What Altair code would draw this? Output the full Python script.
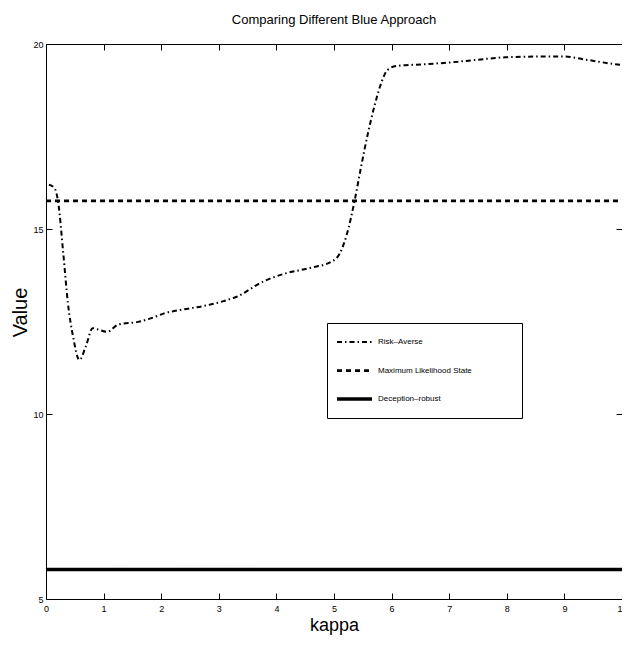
import altair as alt
import pandas as pd

# Risk-Averse curve
ra_x = [0.05, 0.15, 0.21, 0.30, 0.38, 0.47, 0.58, 0.69, 0.81, 0.89, 1.06, 1.26, 1.60, 1.83,
        2.05, 2.40, 2.74, 3.08, 3.31, 3.77, 4.16, 4.56, 4.96, 5.10, 5.22, 5.36, 5.47, 5.59,
        5.70, 5.84, 5.93, 6.10, 6.55, 7.00, 7.46, 7.97, 8.54, 9.00, 9.40, 9.85, 10.0]
ra_y = [16.2, 16.1, 15.74, 14.34, 13.0, 12.09, 11.46, 11.82, 12.32, 12.29, 12.22, 12.42, 12.49, 12.59,
        12.72, 12.83, 12.92, 13.05, 13.17, 13.58, 13.80, 13.94, 14.12, 14.34, 14.84, 15.78, 16.68, 17.59,
        18.31, 19.03, 19.30, 19.41, 19.45, 19.50, 19.57, 19.64, 19.66, 19.66, 19.57, 19.46, 19.43]

mls_x = [0.0, 10.0]
mls_y = [15.76, 15.76]

dr_x = [0.0, 10.0]
dr_y = [5.80, 5.80]

series = ["Risk\u2013Averse", "Maximum Likelihood State", "Deception\u2013robust"]

rows = []
for xv, yv in zip(ra_x, ra_y):
    rows.append({"series": series[0], "x": xv, "y": yv})
for xv, yv in zip(mls_x, mls_y):
    rows.append({"series": series[1], "x": xv, "y": yv})
for xv, yv in zip(dr_x, dr_y):
    rows.append({"series": series[2], "x": xv, "y": yv})
df = pd.DataFrame(rows)

W, H = 576, 555
FONT = "Liberation Sans"

xscale = alt.Scale(domain=[0, 10], nice=False, zero=False)
yscale = alt.Scale(domain=[5, 20], nice=False, zero=False)
xticks = list(range(0, 11))
yticks = [5, 10, 15, 20]

# blank (non-whitespace) padding so the legend box is as wide as in the reference
pad = "\u2800" * 7

legend = alt.Legend(
    title=None, orient="none", legendX=281, legendY=279,
    strokeColor="black", fillColor="white", padding=8,
    symbolType="stroke", symbolSize=1225, symbolStrokeColor="black",
    clipHeight=22, rowPadding=6.5, labelOffset=4,
    labelFont=FONT, labelFontSize=8, labelColor="black",
    labelExpr=f"datum.label + '{pad}'",
    labelLimit=400,
)

main = alt.Chart(df).mark_line(color="black", interpolate="monotone").encode(
    x=alt.X("x:Q", scale=xscale,
            axis=alt.Axis(orient="bottom", values=xticks, ticks=False, tickSize=0, grid=False,
                          domain=True, domainColor="black", labelPadding=5, labelFlush=False,
                          labelFont=FONT, labelFontSize=9, labelColor="black",
                          title="kappa", titleFont=FONT, titleFontSize=18,
                          titleFontWeight="normal", titleColor="black", titlePadding=3)),
    y=alt.Y("y:Q", scale=yscale,
            axis=alt.Axis(orient="left", values=yticks, ticks=False, tickSize=0, grid=False,
                          domain=True, domainColor="black", labelPadding=3, labelFlush=False,
                          labelFont=FONT, labelFontSize=9, labelColor="black",
                          title="Value", titleFont=FONT, titleFontSize=20,
                          titleFontWeight="normal", titleColor="black", titlePadding=2,
                          titleY=268)),
    strokeDash=alt.StrokeDash("series:N",
                              scale=alt.Scale(domain=series, range=[[5, 3, 1.5, 3], [5, 4], [1, 0]]),
                              legend=legend),
    strokeWidth=alt.StrokeWidth("series:N",
                                scale=alt.Scale(domain=series, range=[2, 3.5, 5]),
                                legend=legend),
    order="x:Q",
)

ticks_bl = alt.Chart(df).mark_line(opacity=0).encode(
    x=alt.X("x:Q", scale=xscale,
            axis=alt.Axis(orient="top", offset=-H, values=xticks, labels=False, domain=False,
                          grid=False, ticks=True, tickSize=6, tickColor="black", title=None)),
    y=alt.Y("y:Q", scale=yscale,
            axis=alt.Axis(orient="right", offset=-W, values=yticks, labels=False, domain=False,
                          grid=False, ticks=True, tickSize=6, tickColor="black", title=None)),
    detail="series:N",
)

ticks_tr = alt.Chart(df).mark_line(opacity=0).encode(
    x=alt.X("x:Q", scale=xscale,
            axis=alt.Axis(orient="bottom", offset=-H, values=xticks, labels=False, domain=True,
                          domainColor="black", grid=False, ticks=True, tickSize=6,
                          tickColor="black", title=None)),
    y=alt.Y("y:Q", scale=yscale,
            axis=alt.Axis(orient="left", offset=-W, values=yticks, labels=False, domain=False,
                          grid=False, ticks=True, tickSize=6, tickColor="black", title=None)),
    detail="series:N",
)

chart = alt.layer(main, ticks_bl, ticks_tr).resolve_axis(x="independent", y="independent").properties(
    width=W, height=H,
    title=alt.TitleParams("Comparing Different Blue Approach", font=FONT, fontSize=13,
                          fontWeight="normal", color="black", frame="group", offset=13),
    autosize=alt.AutoSizeParams(type="none"),
    padding={"left": 38, "top": 36, "right": 0, "bottom": 37},
).configure_view(stroke=None).configure(background="white")

chart.save("out.html", embed_options={"renderer": "svg", "actions": False})
